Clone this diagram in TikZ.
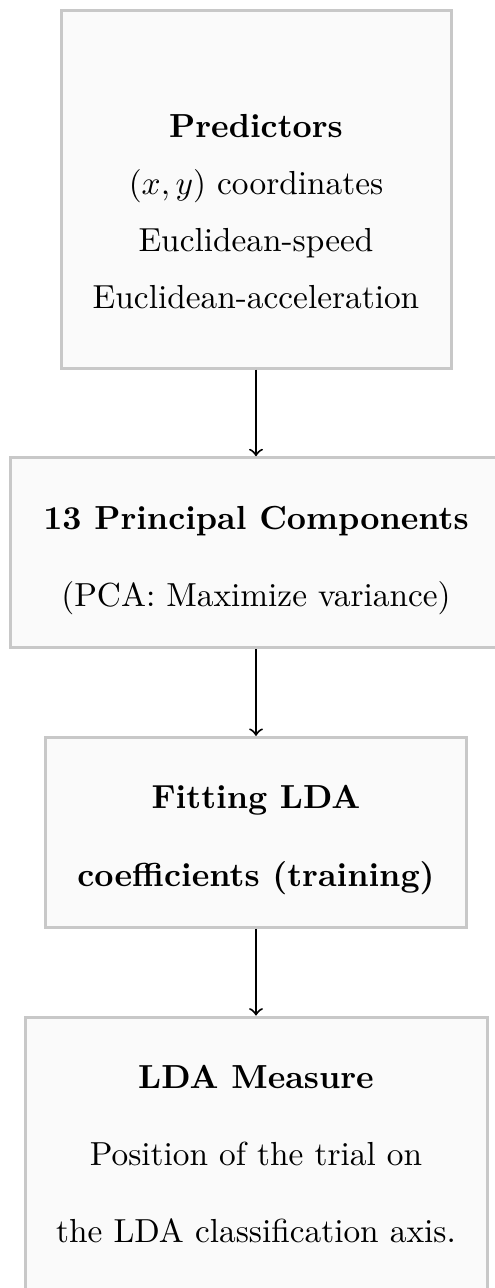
\documentclass[tikz,border=0pt]{standalone}
\usetikzlibrary{positioning}

\definecolor{boxline}{HTML}{C8C8C8}
\definecolor{boxfill}{HTML}{FAFAFA}

\begin{document}
\begin{tikzpicture}[->,
					>=to,
					node distance=26pt,
					semithick,
					stage node/.style={rectangle,draw=boxline,fill=boxfill,line width=0.9pt,
					                   align=center,inner sep=0pt,minimum height=57pt}]

  \useasboundingbox (0,0) rectangle (148.2pt,-386.4pt);

  % the struts push the text a little below the middle of each box
  \node[stage node,minimum width=117pt,minimum height=107.4pt] (P) at (76.8pt,-56.7pt)
    {\rule{0pt}{20.4pt}\textbf{Predictors}\\[5.1pt]$(x,y)$ coordinates\\[5.1pt]Euclidean-speed\\[5.1pt]Euclidean-acceleration};
  \node[stage node,minimum width=147.6pt] (C) [below=of P]
    {\rule{0pt}{11.6pt}\textbf{13 Principal Components}\\[11.2pt](PCA: Maximize variance)};
  \node[stage node,minimum width=126.3pt] (F) [below=of C]
    {\rule{0pt}{11.4pt}\textbf{Fitting LDA}\\[11.4pt]\textbf{coefficients (training)}};
  \node[stage node,minimum width=138.6pt,minimum height=82.5pt] (M) [below=of F]
    {\textbf{LDA Measure}\\[11.1pt]Position of the trial on\\[11.1pt]the LDA classification axis.};

  \path (P) edge (C)
        (C) edge (F)
        (F) edge (M);
\end{tikzpicture}
\end{document}
